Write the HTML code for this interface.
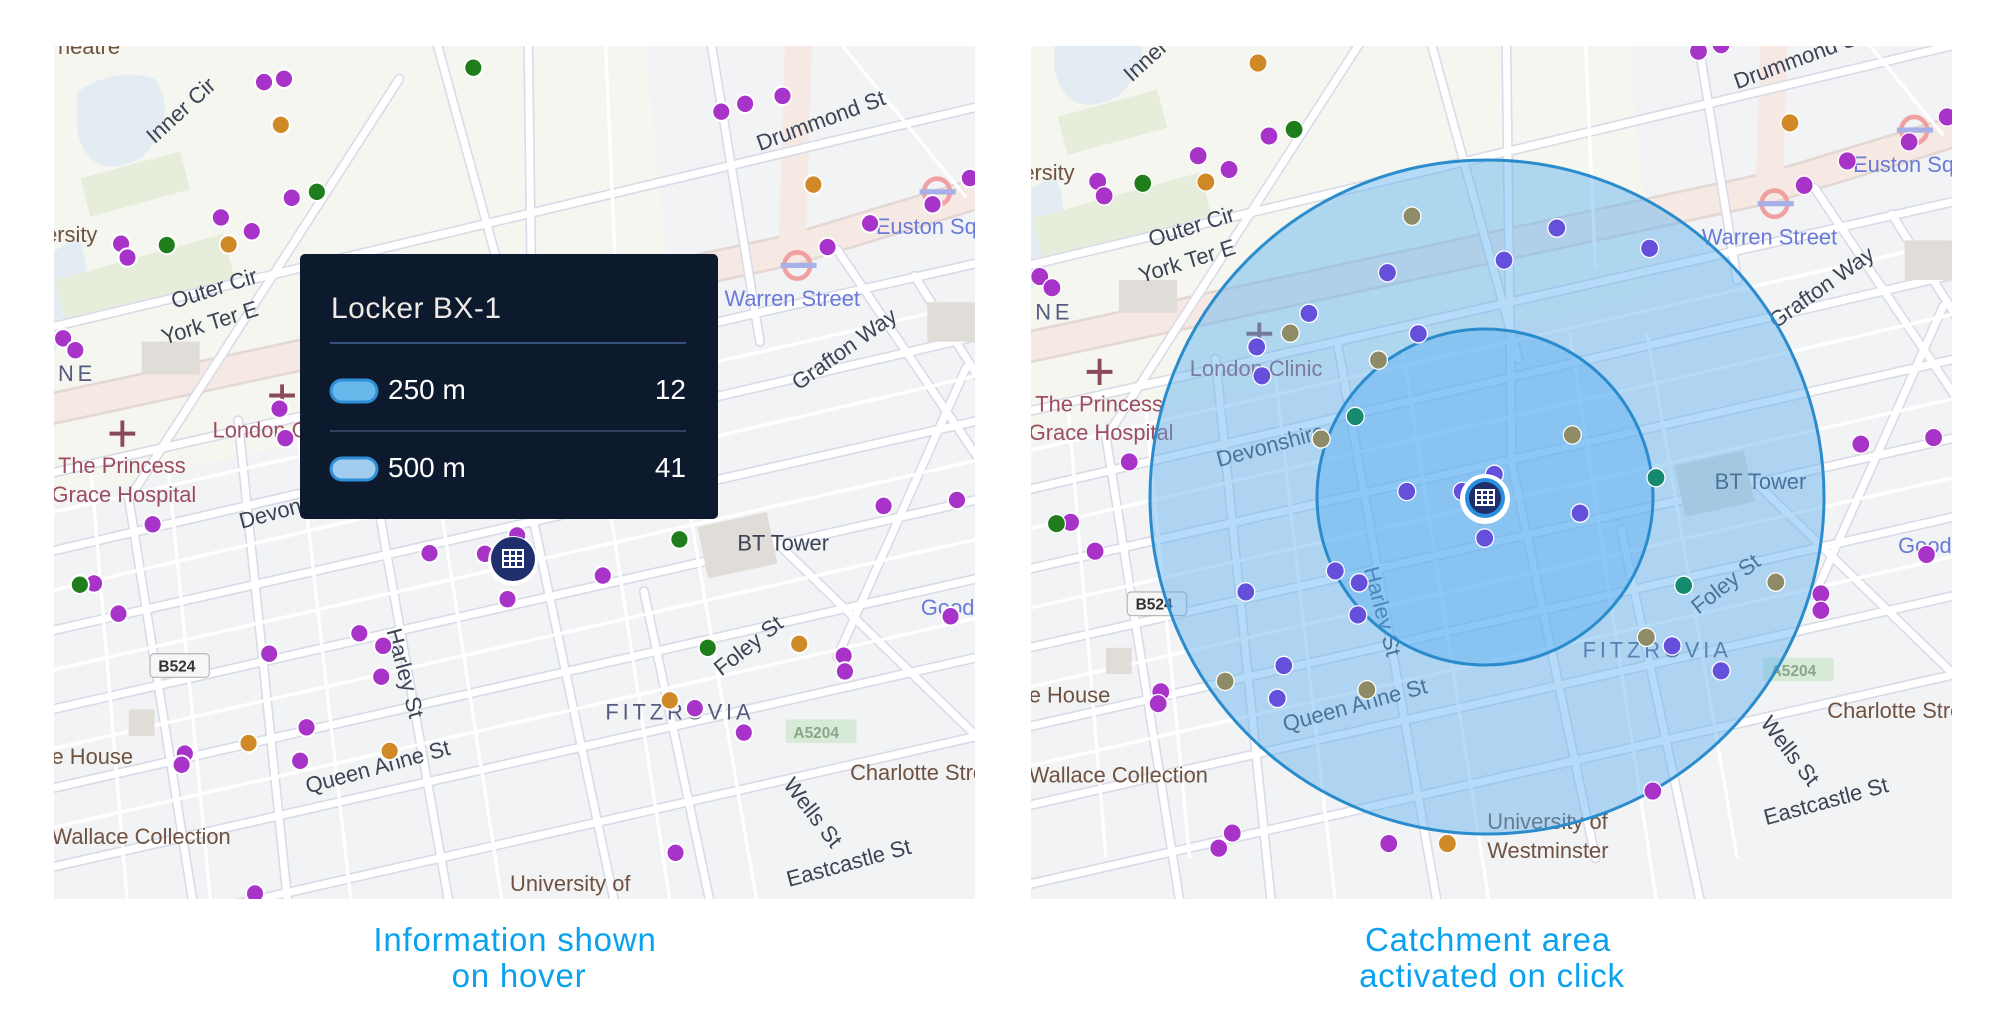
<!DOCTYPE html>
<html><head><meta charset="utf-8"><style>
html,body{margin:0;padding:0;background:#fff;}
svg{display:block}
text{font-family:"Liberation Sans",sans-serif}
</style></head><body>
<svg width="2006" height="1032" viewBox="0 0 2006 1032" xmlns="http://www.w3.org/2000/svg">
<defs>
<clipPath id="cl"><rect x="54" y="46" width="921" height="853"/></clipPath>
<clipPath id="cr"><rect x="1031" y="46" width="921" height="853"/></clipPath>
<g id="roads">
  <rect x="-200" y="-200" width="2000" height="1800" fill="#f2f3f5"/>
  <polygon points="60,40 1000,40 1050,540 84,760 60,700" fill="#f4f6ef"/>
  <path d="M120,140 q60,-40 120,-20 q40,60 -20,120 q-80,40 -100,-40z" fill="#e3ecf3"/>
  <path d="M0,420 q60,-20 120,-60 q40,80 -40,180 q-60,20 -80,-40z" fill="#e3ecf3"/>
  <rect x="130" y="250" width="160" height="60" fill="#e6eedb" transform="rotate(-15 210 280)"/>
  <rect x="90" y="390" width="270" height="70" fill="#e6eedb" transform="rotate(-15 225 425)"/>
  <g stroke="#e4d8d4" stroke-width="50" fill="none">
    <path d="M-100,660 L1230,380 L1700,240"/>
  </g>
  <g stroke="#f6e9e4" stroke-width="42" fill="none">
    <path d="M-100,660 L1230,380 L1700,240"/>
    <path d="M1230,380 L1240,60"/>
  </g>
  <g stroke="#d9dce8" stroke-width="16" fill="none" stroke-linecap="round">
    <path d="M-100,540 L1700,120"/><path d="M-100,760 L1700,360"/>
    <path d="M-100,880 L1700,470"/><path d="M-100,1000 L1700,600"/>
    <path d="M-100,1120 L1700,720"/><path d="M-100,1240 L1700,840"/>
    <path d="M-100,1360 L1700,960"/><path d="M-100,1480 L1700,1080"/>
    <path d="M820,40 L830,800 L960,1400"/><path d="M370,640 L460,1500"/>
    <path d="M560,620 L720,1500"/><path d="M1000,900 L1130,1500"/>
    <path d="M1200,820 L1600,1200"/><path d="M1300,380 L1700,960"/>
    <path d="M660,0 L840,640"/><path d="M620,120 L200,760"/>
    <path d="M1100,40 L1180,520"/><path d="M1420,420 L1600,700"/>
    <path d="M200,760 L320,1500"/><path d="M1500,560 L1300,1000"/>
  </g>
  <g stroke="#ffffff" stroke-width="11" fill="none" stroke-linecap="round">
    <path d="M-100,540 L1700,120"/><path d="M-100,760 L1700,360"/>
    <path d="M-100,880 L1700,470"/><path d="M-100,1000 L1700,600"/>
    <path d="M-100,1120 L1700,720"/><path d="M-100,1240 L1700,840"/>
    <path d="M-100,1360 L1700,960"/><path d="M-100,1480 L1700,1080"/>
    <path d="M820,40 L830,800 L960,1400"/><path d="M370,640 L460,1500"/>
    <path d="M560,620 L720,1500"/><path d="M1000,900 L1130,1500"/>
    <path d="M1200,820 L1600,1200"/><path d="M1300,380 L1700,960"/>
    <path d="M660,0 L840,640"/><path d="M620,120 L200,760"/>
    <path d="M1100,40 L1180,520"/><path d="M1420,420 L1600,700"/>
    <path d="M200,760 L320,1500"/><path d="M1500,560 L1300,1000"/>
  </g>
  <g stroke="#ffffff" stroke-width="5" fill="none">
    <path d="M460,640 L560,1500"/><path d="M660,620 L800,1500"/><path d="M920,600 L1060,1500"/>
    <path d="M1040,600 L1180,1400"/><path d="M260,700 L330,1400"/><path d="M140,700 L200,1400"/>
    <path d="M-100,820 L1700,420"/><path d="M-100,940 L1700,530"/><path d="M-100,1060 L1700,660"/>
    <path d="M-100,1180 L1700,780"/><path d="M-100,1300 L1700,900"/>
    <path d="M1300,60 L1500,300"/><path d="M940,60 L960,500"/>
  </g>
  <rect x="1090" y="790" width="110" height="80" fill="#e0dcd8" transform="rotate(-12 1145 830)"/>
  <rect x="220" y="520" width="90" height="50" fill="#e0dcd8"/>
  <rect x="200" y="1080" width="40" height="40" fill="#e0dcd8"/>
  <rect x="1440" y="460" width="80" height="60" fill="#e0dcd8"/>
  <rect x="1220" y="1095" width="110" height="36" rx="4" fill="#d7ead7"/>
  <text x="1232" y="1123" font-size="24" font-weight="bold" fill="#8aa68a">A5204</text>
  <rect x="233" y="995" width="92" height="36" rx="6" fill="#f6f6f6" stroke="#bbb" stroke-width="2"/>
  <text x="246" y="1022" font-size="24" font-weight="bold" fill="#333">B524</text>
  <g font-size="34" fill="#3b4454">
    <text x="1180" y="230" transform="rotate(-20 1180 230)">Drummond St</text>
    <text x="240" y="220" transform="rotate(-42 240 220)">Inner Cir</text>
    <text x="270" y="470" transform="rotate(-17 270 470)">Outer Cir</text>
    <text x="255" y="525" transform="rotate(-17 255 525)">York Ter E</text>
    <text x="1240" y="595" transform="rotate(-35 1240 595)">Grafton Way</text>
    <text x="1145" y="838">BT Tower</text>
    <text x="375" y="805" transform="rotate(-15 375 805)">Devonshire</text>
    <text x="1120" y="1030" transform="rotate(-38 1120 1030)">Foley St</text>
    <text x="478" y="1208" transform="rotate(-15 478 1208)">Queen Anne St</text>
    <text x="600" y="960" transform="rotate(75 600 960)">Harley St</text>
    <text x="1215" y="1195" transform="rotate(52 1215 1195)">Wells St</text>
    <text x="1225" y="1350" transform="rotate(-15 1225 1350)">Eastcastle St</text>
    <text x="940" y="1095" letter-spacing="6" fill="#555c80">FITZROVIA</text>
    <text x="90" y="580" letter-spacing="6" fill="#555c80">NE</text>
  </g>
  <g font-size="34" fill="#6a7ad8">
    <text x="1125" y="466">Warren Street</text>
    <text x="1360" y="356">Euston Square</text>
    <text x="1430" y="936">Goodge</text>
  </g>
  <g font-size="34" fill="#9c4d60">
    <text x="90" y="720">The Princess</text>
    <text x="80" y="764">Grace Hospital</text>
    <text x="330" y="666">London Clinic</text>
  </g>
  <g font-size="34" fill="#6f5240">
    <text x="70" y="368">ersity</text>
    <text x="80" y="1163">e House</text>
    <text x="80" y="1285">Wallace Collection</text>
    <text x="792" y="1356">University of</text>
    <text x="792" y="1400">Westminster</text>
    <text x="1320" y="1187">Charlotte Street</text>
    <text x="90" y="82">heatre</text>
  </g>
  <path d="M170,660 h40 M190,640 v40" stroke="#8a4a5a" stroke-width="6"/>
  <path d="M418,602 h40 M438,585 v35" stroke="#8a4a5a" stroke-width="6"/>
  <circle cx="1238" cy="404" r="20" fill="none" stroke="#f0a0a0" stroke-width="7"/>
  <rect x="1212" y="400" width="56" height="8" fill="#a8b0e8"/>
  <circle cx="1455" cy="292" r="20" fill="none" stroke="#f0a0a0" stroke-width="7"/>
  <rect x="1428" y="288" width="56" height="8" fill="#a8b0e8"/>
</g>
</defs>

<!-- LEFT MAP -->
<g clip-path="url(#cl)">
 <g transform="translate(0,0) scale(0.644,0.657)">
  <use href="#roads"/>
  <g stroke="#fff" stroke-width="3">
   <g fill="#a833c8">
    <circle cx="410" cy="125" r="14"/><circle cx="441" cy="120" r="14"/>
    <circle cx="1120" cy="170" r="14"/><circle cx="1157" cy="158" r="14"/><circle cx="1215" cy="146" r="14"/>
    <circle cx="1506" cy="271" r="14"/><circle cx="1448" cy="311" r="14"/><circle cx="1351" cy="340" r="14"/><circle cx="1285" cy="376" r="14"/>
    <circle cx="453" cy="301" r="14"/><circle cx="343" cy="331" r="14"/><circle cx="391" cy="352" r="14"/>
    <circle cx="188" cy="371" r="14"/><circle cx="198" cy="392" r="14"/><circle cx="98" cy="515" r="14"/><circle cx="117" cy="533" r="14"/>
    <circle cx="434" cy="622" r="14"/><circle cx="443" cy="667" r="14"/><circle cx="237" cy="798" r="14"/>
    <circle cx="146" cy="888" r="14"/><circle cx="184" cy="934" r="14"/><circle cx="418" cy="995" r="14"/>
    <circle cx="558" cy="964" r="14"/><circle cx="595" cy="983" r="14"/><circle cx="592" cy="1030" r="14"/>
    <circle cx="476" cy="1107" r="14"/><circle cx="466" cy="1158" r="14"/><circle cx="287" cy="1147" r="14"/><circle cx="282" cy="1164" r="14"/>
    <circle cx="667" cy="842" r="14"/><circle cx="803" cy="815" r="14"/><circle cx="753" cy="843" r="14"/><circle cx="788" cy="912" r="14"/>
    <circle cx="936" cy="876" r="14"/><circle cx="1372" cy="770" r="14"/><circle cx="1486" cy="761" r="14"/><circle cx="1476" cy="938" r="14"/>
    <circle cx="1310" cy="998" r="14"/><circle cx="1312" cy="1022" r="14"/><circle cx="1079" cy="1078" r="14"/><circle cx="1155" cy="1115" r="14"/>
    <circle cx="1049" cy="1298" r="14"/><circle cx="396" cy="1360" r="14"/>
   </g>
   <g fill="#cf8a27">
    <circle cx="436" cy="190" r="14"/><circle cx="1263" cy="281" r="14"/><circle cx="355" cy="372" r="14"/>
    <circle cx="386" cy="1131" r="14"/><circle cx="605" cy="1143" r="14"/><circle cx="1241" cy="980" r="14"/><circle cx="1040" cy="1066" r="14"/>
   </g>
   <g fill="#1f7d1c">
    <circle cx="735" cy="103" r="14"/><circle cx="492" cy="292" r="14"/><circle cx="259" cy="373" r="14"/>
    <circle cx="124" cy="890" r="14"/><circle cx="1055" cy="821" r="14"/><circle cx="1099" cy="986" r="14"/>
   </g>
  </g>
 </g>
</g>
<!-- marker left -->
<circle cx="513" cy="561" r="25" fill="#fff" opacity="0.9"/>
<circle cx="513" cy="559" r="22" fill="#1f2f6e"/>
<g stroke="#fff" stroke-width="2" fill="none"><rect x="503" y="550" width="20" height="17"/><path d="M503,556 h20 M503,561 h20 M510,550 v17 M516,550 v17"/></g>

<!-- tooltip -->
<rect x="300" y="254" width="418" height="265" rx="5" fill="#0d1a2e"/>
<text x="331" y="318" font-size="30" fill="#eeeae6" letter-spacing="0.5">Locker BX-1</text>
<rect x="330" y="342" width="356" height="2" fill="#36517a"/>
<rect x="331" y="380" width="46" height="22" rx="11" fill="#69b8ec" stroke="#2e8ed6" stroke-width="3"/>
<text x="388" y="399" font-size="28" fill="#fff">250 m</text>
<text x="686" y="399" font-size="28" fill="#fff" text-anchor="end">12</text>
<rect x="330" y="430" width="356" height="2" fill="#2e405e"/>
<rect x="331" y="458" width="46" height="22" rx="11" fill="#a2cdee" stroke="#2e8ed6" stroke-width="3"/>
<text x="388" y="477" font-size="28" fill="#fff">500 m</text>
<text x="686" y="477" font-size="28" fill="#fff" text-anchor="end">41</text>

<!-- RIGHT MAP -->
<g clip-path="url(#cr)">
 <g transform="translate(1003,0) scale(0.644,0.657)">
  <g transform="translate(-40,-94)"><use href="#roads"/></g>
 </g>
 <circle cx="1487" cy="497" r="337" fill="rgba(90,175,240,0.45)" stroke="#2a8ccc" stroke-width="3"/>
 <circle cx="1485" cy="497" r="168" fill="rgba(80,170,240,0.4)" stroke="#2a8ccc" stroke-width="3"/>
 <g transform="translate(1003,0) scale(0.644,0.657)" stroke="#fff" stroke-width="2">
   <g fill="#a833c8">
    <circle cx="1080" cy="78" r="14"/><circle cx="1115" cy="68" r="14"/><circle cx="413" cy="207" r="14"/>
    <circle cx="303" cy="237" r="14"/><circle cx="351" cy="258" r="14"/><circle cx="147" cy="276" r="14"/><circle cx="157" cy="298" r="14"/>
    <circle cx="1466" cy="178" r="14"/><circle cx="1407" cy="216" r="14"/><circle cx="1311" cy="245" r="14"/><circle cx="1244" cy="282" r="14"/>
    <circle cx="57" cy="421" r="14"/><circle cx="76" cy="438" r="14"/><circle cx="196" cy="703" r="14"/><circle cx="105" cy="795" r="14"/>
    <circle cx="143" cy="839" r="14"/><circle cx="1332" cy="676" r="14"/><circle cx="1445" cy="666" r="14"/><circle cx="1434" cy="844" r="14"/>
    <circle cx="1270" cy="904" r="14"/><circle cx="1270" cy="929" r="14"/><circle cx="245" cy="1053" r="14"/><circle cx="241" cy="1071" r="14"/>
    <circle cx="1009" cy="1204" r="14"/><circle cx="356" cy="1268" r="14"/><circle cx="335" cy="1291" r="14"/><circle cx="599" cy="1284" r="14"/>
   </g>
   <g fill="#cf8a27"><circle cx="396" cy="96" r="14"/><circle cx="315" cy="277" r="14"/><circle cx="1222" cy="187" r="14"/><circle cx="690" cy="1284" r="14"/></g>
   <g fill="#1f7d1c"><circle cx="452" cy="197" r="14"/><circle cx="217" cy="279" r="14"/><circle cx="83" cy="797" r="14"/></g>
   <g fill="#6550dc">
    <circle cx="860" cy="347" r="14"/><circle cx="778" cy="396" r="14"/><circle cx="597" cy="415" r="14"/><circle cx="1004" cy="378" r="14"/>
    <circle cx="475" cy="477" r="14"/><circle cx="394" cy="528" r="14"/><circle cx="402" cy="572" r="14"/><circle cx="645" cy="508" r="14"/>
    <circle cx="627" cy="748" r="14"/><circle cx="713" cy="748" r="14"/><circle cx="763" cy="722" r="14"/><circle cx="748" cy="819" r="14"/>
    <circle cx="896" cy="781" r="14"/><circle cx="516" cy="869" r="14"/><circle cx="553" cy="887" r="14"/><circle cx="551" cy="936" r="14"/>
    <circle cx="377" cy="901" r="14"/><circle cx="436" cy="1013" r="14"/><circle cx="426" cy="1063" r="14"/><circle cx="1039" cy="983" r="14"/><circle cx="1115" cy="1021" r="14"/>
   </g>
   <g fill="#8e8c66">
    <circle cx="635" cy="329" r="14"/><circle cx="446" cy="507" r="14"/><circle cx="583" cy="548" r="14"/><circle cx="494" cy="668" r="14"/>
    <circle cx="884" cy="662" r="14"/><circle cx="345" cy="1037" r="14"/><circle cx="565" cy="1050" r="14"/><circle cx="999" cy="970" r="14"/><circle cx="1200" cy="886" r="14"/>
   </g>
   <g fill="#158a6e"><circle cx="547" cy="634" r="14"/><circle cx="1014" cy="727" r="14"/><circle cx="1057" cy="891" r="14"/></g>
 </g>
</g>
<!-- marker right -->
<circle cx="1485" cy="499" r="25" fill="#fff"/>
<circle cx="1485" cy="498" r="20" fill="#2a8fe0"/>
<circle cx="1485" cy="498" r="16" fill="#1f2f6e"/>
<g stroke="#fff" stroke-width="2" fill="none"><rect x="1476" y="490" width="18" height="15"/><path d="M1476,495 h18 M1476,500 h18 M1482,490 v15 M1488,490 v15"/></g>

<!-- captions -->
<g font-size="33" fill="#0aa2ee" text-anchor="middle" letter-spacing="0.8">
<text x="515" y="951">Information shown</text>
<text x="519" y="987">on hover</text>
<text x="1488" y="951">Catchment area</text>
<text x="1492" y="987">activated on click</text>
</g>
</svg>
</body></html>
